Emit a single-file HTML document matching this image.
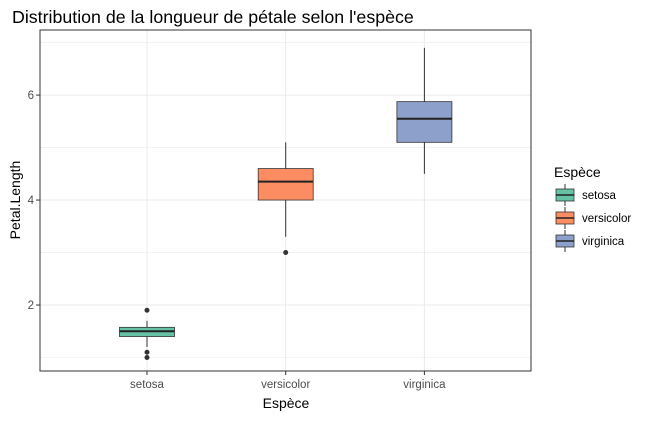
<!DOCTYPE html>
<html><head><meta charset="utf-8"><style>
body{margin:0;background:#fff;font-family:"Liberation Sans",Arial,sans-serif}
</style></head><body>
<svg id="c" width="651" height="417" xmlns="http://www.w3.org/2000/svg">
<text x="12" y="23" font-size="17.8" fill="#000">Distribution de la longueur de pétale selon l'espèce</text>
<g id="plot"></g>
<text x="286" y="408" font-size="14" text-anchor="middle">Espèce</text>
<text transform="translate(20,200) rotate(-90)" font-size="14" text-anchor="middle">Petal.Length</text>
<text x="554" y="177" font-size="14">Espèce</text>
<g id="legend"></g>
</svg>
<script>
const categories=["setosa","versicolor","virginica"];
const colors=["#66C2A5","#FC8D62","#8DA0CB"];
const q1=[1.4,4.0,5.1];
const medians=[1.5,4.35,5.55];
const q3=[1.575,4.6,5.875];
const lowWhisk=[1.2,3.3,4.5];
const highWhisk=[1.7,5.1,6.9];
const outliers=[[1.0,1.1,1.9],[3.0],[]];
const yTicks=[2,4,6];
const NS="http://www.w3.org/2000/svg";
const L=40,R=531,T=30,B=371,yMin=0.743,yMax=7.24;
const y=v=>B-(v-yMin)/(yMax-yMin)*(B-T);
const xc=i=>147+i*138.7;
const g=document.getElementById('plot');
function mk(t,a,p){const e=document.createElementNS(NS,t);for(const k in a)e.setAttribute(k,a[k]);(p||g).appendChild(e);return e;}
let r=mk('rect',{x:L,y:T,width:R-L,height:B-T,fill:'#fff'});

for(let v=1;v<=7;v+=1){const e=mk('line',{x1:L,x2:R,y1:y(v),y2:y(v),stroke:'#ebebeb','stroke-width':v%2==0?1:0.6});}
categories.forEach((c,i)=>{const e=mk('line',{x1:xc(i),x2:xc(i),y1:T,y2:B,stroke:'#ebebeb'});});
yTicks.forEach(v=>{const e=mk('text',{x:34,y:y(v)+4,'font-size':11.5,fill:'#4d4d4d','text-anchor':'end'});e.textContent=v;
mk('line',{x1:36,x2:L,y1:y(v),y2:y(v),stroke:'#333'});});
const bw=55;
categories.forEach((c,i)=>{const cx=xc(i);
const w=mk('line',{x1:cx,x2:cx,y1:y(highWhisk[i]),y2:y(lowWhisk[i]),stroke:'#333'});
const b=mk('rect',{x:cx-bw/2,y:y(q3[i]),width:bw,height:y(q1[i])-y(q3[i]),fill:colors[i],stroke:'#333','stroke-width':0.8});
const m=mk('line',{x1:cx-bw/2,x2:cx+bw/2,y1:y(medians[i]),y2:y(medians[i]),stroke:'#222','stroke-width':2});
outliers[i].forEach(o=>{const p=mk('circle',{cx:cx,cy:y(o),r:2.5,fill:'#333'});});
mk('line',{x1:cx,x2:cx,y1:B,y2:B+4,stroke:'#333'});
const t=mk('text',{x:cx,y:388,'font-size':11.5,fill:'#4d4d4d','text-anchor':'middle'});t.textContent=c;
});
mk('rect',{x:L,y:T,width:R-L,height:B-T,fill:'none',stroke:'#333','stroke-width':1});
const lg=document.getElementById('legend');
categories.forEach((c,i)=>{const yy=184+i*23;
const k=mk('rect',{x:556,y:yy+5,width:18,height:12,fill:colors[i],stroke:'#333','stroke-width':0.8},lg);
mk('line',{x1:565,x2:565,y1:yy,y2:yy+5,stroke:'#333'},lg);mk('line',{x1:565,x2:565,y1:yy+17,y2:yy+22,stroke:'#333'},lg);
mk('line',{x1:556,x2:574,y1:yy+11,y2:yy+11,stroke:'#222','stroke-width':1.5},lg);
const t=mk('text',{x:582,y:yy+15,'font-size':11.5,fill:'#000'},lg);t.textContent=c;});
</script>
</body></html>
